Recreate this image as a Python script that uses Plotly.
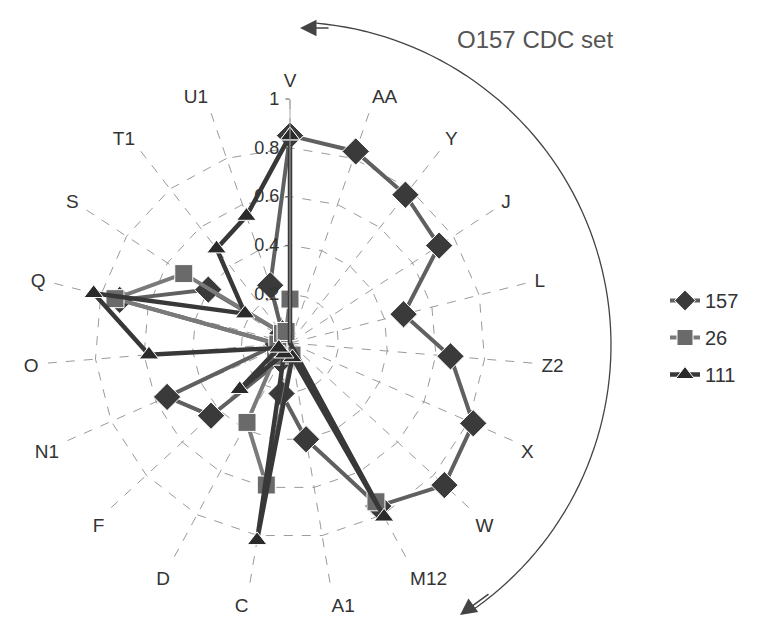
import numpy as np
import plotly.graph_objects as go

categories = ["V", "AA", "Y", "J", "L", "Z2", "X", "W", "M12", "A1",
              "C", "D", "F", "N1", "O", "Q", "S", "T1", "U1"]
s157 = [0.85, 0.83, 0.77, 0.73, 0.48, 0.66, 0.82, 0.86, 0.76, 0.40,
        0.21, 0.08, 0.44, 0.55, 0.05, 0.72, 0.40, 0.05, 0.25]
s26 = [0.18, 0.0, 0.0, 0.0, 0.0, 0.0, 0.0, 0.0, 0.74, 0.05,
       0.59, 0.37, 0.08, 0.05, 0.05, 0.74, 0.52, 0.05, 0.05]
s111 = [0.85, 0.0, 0.0, 0.0, 0.0, 0.0, 0.0, 0.0, 0.81, 0.06,
        0.82, 0.05, 0.28, 0.05, 0.58, 0.83, 0.22, 0.49, 0.55]
radial_ticks = [0.2, 0.4, 0.6, 0.8, 1]
radial_labels = ["0.2", "0.4", "0.6", "0.8", "1"]

# page body has an 8px margin; figure fills the rest of the 776x619 window
OFF = 8
FW, FH = 776 - OFF, 619 - OFF
FONT = "Liberation Sans, Arial, sans-serif"


def px(x):
    return (x - OFF) / FW


def py(y):
    return 1 - (y - OFF) / FH


def closed(v):
    return list(v) + [v[0]]


fig = go.Figure()
series = [
    ("157", s157, "diamond", 21, "#3a3a3a", "#606060", 4),
    ("26", s26, "square", 18, "#6a6a6a", "#7a7a7a", 4),
    ("111", s111, "triangle-up", 17, "#2a2a2a", "#383838", 4.5),
]
for name, vals, sym, size, mcol, lcol, lw in series:
    fig.add_trace(go.Scatterpolar(
        r=closed(vals), theta=closed(categories), name=name,
        mode="lines+markers", legendgroup=name,
        line=dict(color=lcol, width=lw),
        marker=dict(symbol=sym, size=size, color=mcol,
                    line=dict(color="white", width=1)),
    ))

# polar centre ~ (290, 343) on screen, radius ~244
CX, CY, R = 290, 343, 244
fig.update_layout(
    width=FW, height=FH,
    margin=dict(l=0, r=0, t=0, b=0),
    paper_bgcolor="white", plot_bgcolor="white",
    font=dict(family=FONT, color="#333"),
    polar=dict(
        domain=dict(x=[px(CX - R), px(CX + R)], y=[py(CY + R), py(CY - R)]),
        bgcolor="white",
        angularaxis=dict(
            direction="clockwise", rotation=90,
            tickfont=dict(size=19, color="#333", family=FONT),
            showline=False, ticks="outside", ticklen=4,
            tickcolor="rgba(0,0,0,0)",
            gridcolor="#9a9a9a", gridwidth=1, griddash="dash",
        ),
        radialaxis=dict(
            range=[0, 1], angle=90, tickangle=90,
            tickvals=radial_ticks, ticktext=radial_labels,
            tickfont=dict(size=18, color="#333", family=FONT),
            showline=True, linecolor="#aaaaaa", linewidth=1,
            ticks="outside", ticklen=4, tickcolor="#555",
            gridcolor="#9a9a9a", gridwidth=1, griddash="dash",
            side="counterclockwise",
        ),
        gridshape="linear",
    ),
    legend=dict(
        x=px(665), y=py(281), xanchor="left", yanchor="top",
        font=dict(size=20, color="#333", family=FONT),
        tracegroupgap=8, bgcolor="rgba(0,0,0,0)",
    ),
    showlegend=True,
)

# Curved arrow (decoration) around the right side of the chart
acx, acy, arr = 288, 345, 323
angs = np.radians(np.linspace(5, 146, 80))
pts = [(acx + arr * np.sin(a), acy - arr * np.cos(a)) for a in angs]
path = "M " + " L ".join(f"{px(x):.5f},{py(y):.5f}" for x, y in pts)
fig.add_shape(type="path", path=path, xref="paper", yref="paper",
              line=dict(color="#444", width=1.3))

fig.add_annotation(x=px(300), y=py(28), xref="paper", yref="paper",
                   ax=30, ay=0, showarrow=True, arrowhead=2, arrowsize=2.2,
                   arrowwidth=1.5, arrowcolor="#444", text="")
fig.add_annotation(x=px(460), y=py(615), xref="paper", yref="paper",
                   ax=30, ay=-22, showarrow=True, arrowhead=2, arrowsize=2.2,
                   arrowwidth=1.5, arrowcolor="#444", text="")

fig.add_annotation(x=px(535), y=py(40), xref="paper", yref="paper",
                   xanchor="center", yanchor="middle",
                   text="O157 CDC set", showarrow=False,
                   font=dict(size=24, color="#555", family=FONT))

fig.write_html("out.html")
